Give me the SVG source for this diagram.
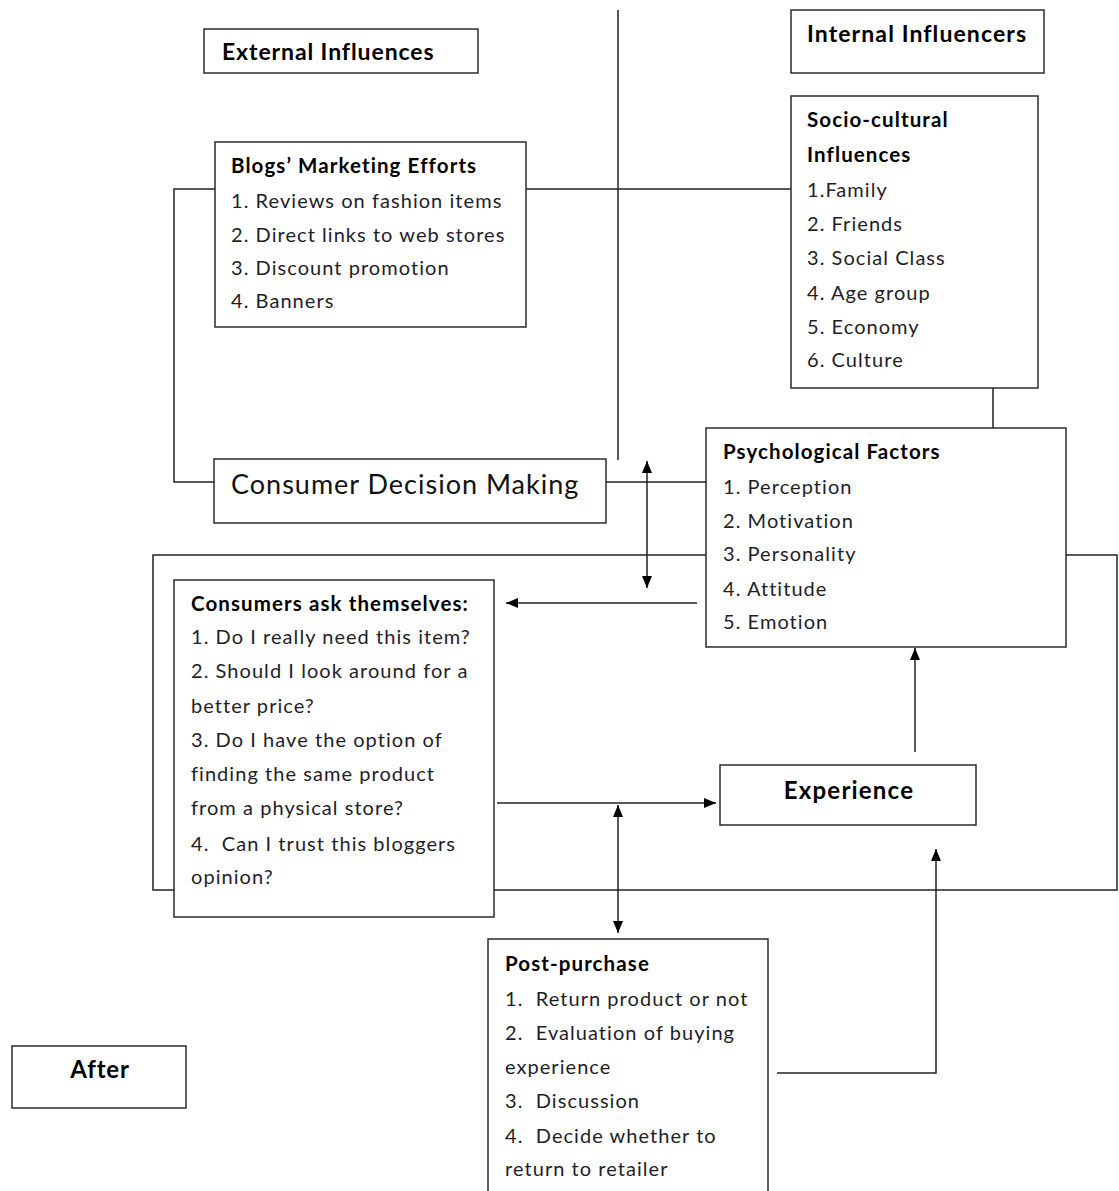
<svg xmlns="http://www.w3.org/2000/svg" width="1119" height="1191" viewBox="0 0 1119 1191">
  <style>
    .box { fill: #fff; stroke: #2b2b2b; stroke-width: 1.5; }
    .wire { fill: none; stroke: #222; stroke-width: 1.5; }
    .t { font-family: Lato, "Open Sans", sans-serif; font-size: 20px; letter-spacing: 1.05px; fill: #1e1e28; white-space: pre; }
    .b { font-family: Lato, "Open Sans", sans-serif; font-size: 20.5px; letter-spacing: 1.1px; font-weight: bold; fill: #000; }
    .h { font-family: Lato, "Open Sans", sans-serif; font-size: 23px; letter-spacing: 1px; font-weight: bold; fill: #000; }
  </style>
  <defs>
    <marker id="head" viewBox="0 0 12 10" refX="12" refY="5" markerWidth="12" markerHeight="10" markerUnits="userSpaceOnUse" orient="auto-start-reverse">
      <path d="M0,0 L12,5 L0,10 Z" fill="#000"/>
    </marker>
  </defs>
  <rect width="1119" height="1191" fill="#fff"/>

  <!-- connectors -->
  <g id="connectors">
    <line class="wire" x1="618" y1="10" x2="618" y2="460"/>
    <line class="wire" x1="526" y1="189" x2="791" y2="189"/>
    <polyline class="wire" points="215,189 174,189 174,482 215,482"/>
    <line class="wire" x1="993" y1="388" x2="993" y2="428"/>
    <line class="wire" x1="606" y1="482" x2="706" y2="482"/>
    <rect class="wire" x="153" y="555" width="964" height="335"/>
    <line class="wire" x1="647" y1="461" x2="647" y2="588" marker-start="url(#head)" marker-end="url(#head)"/>
    <line class="wire" x1="697" y1="603" x2="506" y2="603" marker-end="url(#head)"/>
    <line class="wire" x1="497" y1="803" x2="716" y2="803" marker-end="url(#head)"/>
    <line class="wire" x1="915" y1="752" x2="915" y2="648" marker-end="url(#head)"/>
    <line class="wire" x1="618" y1="805" x2="618" y2="933" marker-start="url(#head)" marker-end="url(#head)"/>
    <polyline class="wire" points="777,1073 936,1073 936,849" marker-end="url(#head)"/>
  </g>

  <g id="external-influences">
    <rect class="box" x="204" y="29" width="274" height="44"/>
    <text class="h" x="222" y="60" style="letter-spacing:0.9px">External Influences</text>
  </g>

  <g id="internal-influencers">
    <rect class="box" x="791" y="10" width="253" height="63"/>
    <text class="h" x="807" y="42" style="letter-spacing:1.1px">Internal Influencers</text>
  </g>

  <g id="blogs-marketing">
    <rect class="box" x="215" y="142" width="311" height="185"/>
    <text class="b" x="231" y="173">Blogs’ Marketing Efforts</text>
    <text class="t" x="231" y="208">1. Reviews on fashion items</text>
    <text class="t" x="231" y="242">2. Direct links to web stores</text>
    <text class="t" x="231" y="275">3. Discount promotion</text>
    <text class="t" x="231" y="308">4. Banners</text>
  </g>

  <g id="socio-cultural">
    <rect class="box" x="791" y="96" width="247" height="292"/>
    <text class="b" x="807" y="127">Socio-cultural</text>
    <text class="b" x="807" y="162">Influences</text>
    <text class="t" x="807" y="197">1.Family</text>
    <text class="t" x="807" y="231">2. Friends</text>
    <text class="t" x="807" y="265">3. Social Class</text>
    <text class="t" x="807" y="300">4. Age group</text>
    <text class="t" x="807" y="334">5. Economy</text>
    <text class="t" x="807" y="367">6. Culture</text>
  </g>

  <g id="consumer-decision-making">
    <rect class="box" x="214" y="459" width="392" height="64"/>
    <text class="t" x="231" y="494" style="font-size:27px;letter-spacing:1px;fill:#111">Consumer Decision Making</text>
  </g>

  <g id="psychological-factors">
    <rect class="box" x="706" y="428" width="360" height="219"/>
    <text class="b" x="723" y="459">Psychological Factors</text>
    <text class="t" x="723" y="494">1. Perception</text>
    <text class="t" x="723" y="528">2. Motivation</text>
    <text class="t" x="723" y="561">3. Personality</text>
    <text class="t" x="723" y="596">4. Attitude</text>
    <text class="t" x="723" y="629">5. Emotion</text>
  </g>

  <g id="consumers-ask">
    <rect class="box" x="174" y="580" width="320" height="337"/>
    <text class="b" x="191" y="611">Consumers ask themselves:</text>
    <text class="t" x="191" y="644">1. Do I really need this item?</text>
    <text class="t" x="191" y="678">2. Should I look around for a</text>
    <text class="t" x="191" y="713">better price?</text>
    <text class="t" x="191" y="747">3. Do I have the option of</text>
    <text class="t" x="191" y="781">finding the same product</text>
    <text class="t" x="191" y="815">from a physical store?</text>
    <text class="t" x="191" y="851">4.  Can I trust this bloggers</text>
    <text class="t" x="191" y="884">opinion?</text>
  </g>

  <g id="experience">
    <rect class="box" x="720" y="765" width="256" height="60"/>
    <text class="h" x="849" y="799" text-anchor="middle" style="font-size:24px;letter-spacing:1.2px">Experience</text>
  </g>

  <g id="post-purchase">
    <rect class="box" x="488" y="939" width="280" height="260"/>
    <text class="b" x="505" y="971">Post-purchase</text>
    <text class="t" x="505" y="1006">1.  Return product or not</text>
    <text class="t" x="505" y="1040">2.  Evaluation of buying</text>
    <text class="t" x="505" y="1074">experience</text>
    <text class="t" x="505" y="1108">3.  Discussion</text>
    <text class="t" x="505" y="1143">4.  Decide whether to</text>
    <text class="t" x="505" y="1176">return to retailer</text>
  </g>

  <g id="after">
    <rect class="box" x="12" y="1046" width="174" height="62"/>
    <text class="h" x="100" y="1078" text-anchor="middle" style="font-size:24px;letter-spacing:0.8px">After</text>
  </g>
</svg>
